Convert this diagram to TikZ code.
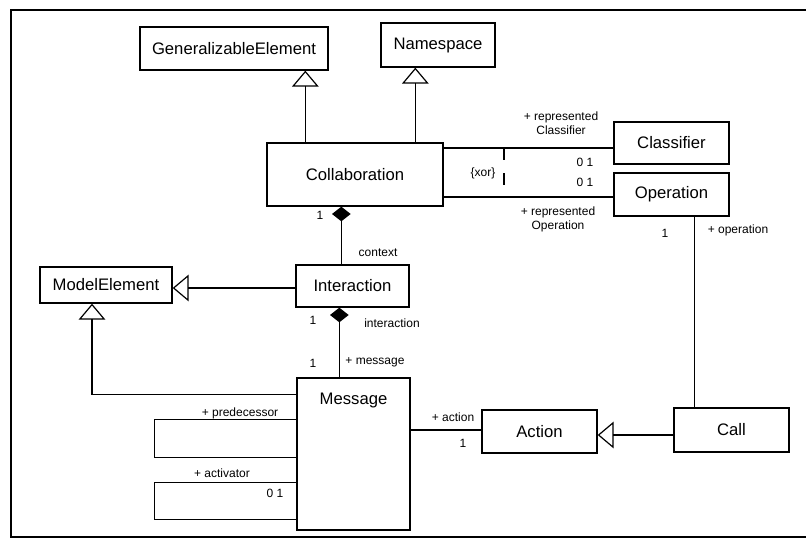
\documentclass[tikz,border=0pt]{standalone}
\usepackage{fontspec}
\setmainfont{Liberation Sans}
\usetikzlibrary{arrows.meta,calc,positioning}

\begin{document}
\begin{tikzpicture}[x=0.75pt,y=-0.75pt,line width=0.9pt,
  cls/.style={draw,line width=1pt,font=\fontsize{12.5}{14}\selectfont,inner sep=0pt},
  gen/.style={-{Triangle[open,length=12pt,width=20pt]}},
  comp/.style={-{Diamond[length=11pt,width=14pt]}},
  lbl/.style={font=\fontsize{9}{10.5}\selectfont,inner sep=1pt,align=center}]
\clip (0,0) rectangle (806,549);
\useasboundingbox (0,0) rectangle (806,549);
% frame
\draw (11,10) rectangle (830,537);

% classes
\node[cls,minimum width=141pt,minimum height=32.25pt] (genelem) at (234,48.5) {GeneralizableElement};
\node[cls,minimum width=85.5pt,minimum height=33pt] (namespace) at (438,45) {Namespace};
\node[cls,minimum width=132pt,minimum height=47.25pt] (collab) at (355,174.5) {Collaboration};
\node[cls,minimum width=86.25pt,minimum height=31.5pt] (classifier) at (671.5,143) {Classifier};
\node[cls,minimum width=86.25pt,minimum height=32.25pt] (operation) at (671.5,194.5) {Operation};
\node[cls,minimum width=84.75pt,minimum height=31.5pt] (interaction) at (352.5,286) {Interaction};
\node[cls,minimum width=99pt,minimum height=27pt] (modelel) at (106,285) {ModelElement};
\node[cls,minimum width=84.75pt,text height=20pt,text depth=94pt] (msg) at (353.5,454) {Message};
\node[cls,minimum width=86.25pt,minimum height=32.25pt] (action) at (539.5,431.5) {Action};
\node[cls,minimum width=86.25pt,minimum height=33pt] (call) at (731.5,430) {Call};

% generalizations
\coordinate (cg) at ($(collab.north west)+(39,0)$);
\draw[gen] (cg) -- (cg |- genelem.south);
\coordinate (cn) at ($(collab.north west)+(149,0)$);
\draw[gen] (cn) -- (cn |- namespace.south);
\coordinate (ie) at ($(interaction.west)+(0,2)$);
\draw[gen] (ie) -- (ie -| modelel.east);
\coordinate (mm) at ($(msg.north west)+(0,17)$);
\coordinate (me) at ($(modelel.south)+(-14,0)$);
\draw[gen] (mm) -| (me);
\coordinate (ca) at ($(call.west)+(0,5)$);
\draw[gen] (ca) -- (ca -| action.east);

% compositions
\coordinate (ci) at ($(interaction.north west)+(46,0)$);
\draw[comp] (ci) -- (ci |- collab.south);
\coordinate (im) at ($(msg.north west)+(43,0)$);
\draw[comp] (im) -- (im |- interaction.south);

% associations
\coordinate (cc) at ($(classifier.west)+(0,5)$);
\draw (cc) -- (cc -| collab.east);
\coordinate (co) at ($(operation.west)+(0,2.5)$);
\draw (co) -- (co -| collab.east);
\coordinate (xa) at (504,148);
\coordinate (xb) at (504,186);
\draw[dash pattern=on 9pt off 10pt] (xa) -- (xb);
\coordinate (oc) at ($(call.north west)+(21,0)$);
\draw (oc) -- (oc |- operation.south);
\coordinate (ma) at ($(action.west)+(0,-1.5)$);
\draw (ma) -- (ma -| msg.east);
\coordinate (pa) at ($(msg.north west)+(0,42)$);
\draw (pa) -- ++(-142,0) |- ($(pa)+(0,38)$);
\coordinate (aa) at ($(msg.north west)+(0,105)$);
\draw (aa) -- ++(-142,0) |- ($(aa)+(0,37)$);

% role names and multiplicities
\node[lbl] (xorlbl) at (483,173) {\{xor\}};
\node[lbl] (rclbl) at (561,123) {+ represented\\Classifier};
\node[lbl] (rolbl) at (558,219.5) {+ represented\\Operation};
\node[lbl] (mcl) at (585,162) {0 1};
\node[lbl] (mol) at (585,182) {0 1};
\node[lbl] (ocm) at (665,233) {1};
\node[lbl] (opl) at (738,230) {+ operation};
\node[lbl] (cim) at (320,215) {1};
\node[lbl] (ctxl) at (378,253) {context};
\node[lbl] (imm) at (313,320) {1};
\node[lbl] (intl) at (392,323) {interaction};
\node[lbl] (mim) at (313,363) {1};
\node[lbl] (msgl) at (375,362) {+ message};
\node[lbl] (actl) at (453,417) {+ action};
\node[lbl] (acm) at (463,443) {1};
\node[lbl] (prel) at (240,413) {+ predecessor};
\node[lbl] (avl) at (222,473) {+ activator};
\node[lbl] (avm) at (275,493) {0 1};
\end{tikzpicture}
\end{document}
